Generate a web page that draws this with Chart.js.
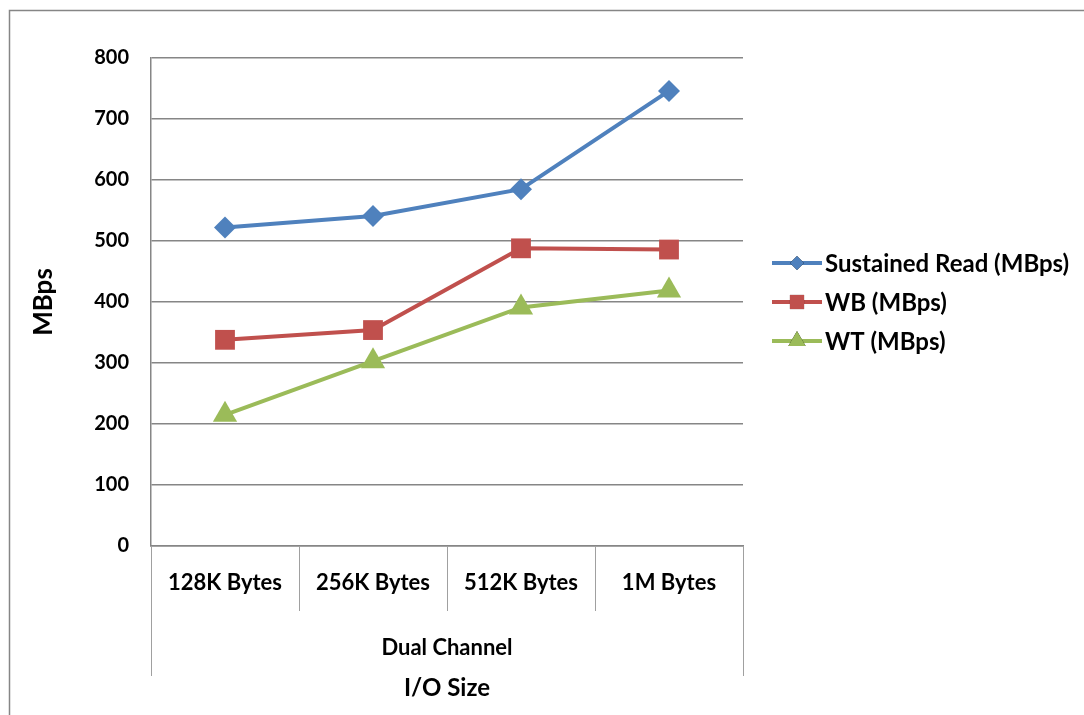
<!DOCTYPE html>
<html>
<head>
<meta charset="utf-8">
<script src="https://cdn.jsdelivr.net/npm/chart.js@4/dist/chart.umd.min.js"></script>
<style>
html,body{margin:0;padding:0;background:#fff;}
</style>
</head>
<body>
<canvas id="chart" width="1084" height="715"></canvas>
<script>
/* data */
var categories = ['128K Bytes', '256K Bytes', '512K Bytes', '1M Bytes'];
var groupLabel = 'Dual Channel';
var readMBps = [522, 541, 585, 746];
var wbMBps = [338, 354, 488, 486];
var wtMBps = [215, 303, 391, 419];
var seriesNames = ['Sustained Read (MBps)', 'WB (MBps)', 'WT (MBps)'];
var yMax = 800, yStep = 100;

var FONT = 'Lato, "Liberation Sans", sans-serif';
var GRID = '#868686';

/* 框線, 多層分類軸, 圖例 */
var decor = {
    id: 'decor',
    afterDraw: function (chart) {
        var ctx = chart.ctx, a = chart.chartArea, xs = chart.scales.x;
        ctx.save();
        ctx.strokeStyle = GRID;
        ctx.lineWidth = 1.5;
        ctx.strokeRect(9.5, 10.5, 1200, 900);

        // category separators
        ctx.lineWidth = 1;
        ctx.strokeStyle = '#a0a0a0';
        for (var i = 0; i <= categories.length; i++) {
            var x, len = 65;
            if (i == 0) { x = a.left; len = 130; }
            else if (i == categories.length) { x = a.right; len = 130; }
            else x = (xs.getPixelForValue(i - 1) + xs.getPixelForValue(i)) / 2;
            x = Math.round(x) + 0.5;
            ctx.beginPath();
            ctx.moveTo(x, a.bottom);
            ctx.lineTo(x, a.bottom + len);
            ctx.stroke();
        }

        ctx.fillStyle = '#000';
        ctx.textAlign = 'center';
        ctx.textBaseline = 'middle';
        ctx.font = 'bold 22px ' + FONT;
        ctx.fillText(groupLabel, (a.left + a.right) / 2, a.bottom + 102);
        ctx.font = 'bold 24px ' + FONT;
        ctx.fillText('I/O Size', (a.left + a.right) / 2, a.bottom + 142);

        ctx.save();
        ctx.translate(44, (a.top + a.bottom) / 2);
        ctx.rotate(-Math.PI / 2);
        ctx.font = 'bold 26px ' + FONT;
        ctx.fillText('MBps', 0, 0);
        ctx.restore();

        // legend
        ctx.textAlign = 'left';
        ctx.font = 'bold 24px ' + FONT;
        chart.data.datasets.forEach(function (ds, k) {
            var y = 263 + k * 39;
            ctx.strokeStyle = ds.borderColor;
            ctx.lineWidth = 4;
            ctx.beginPath();
            ctx.moveTo(772, y);
            ctx.lineTo(822, y);
            ctx.stroke();
            Chart.helpers.drawPoint(ctx, {
                pointStyle: ds.pointStyle,
                radius: ds.legendRadius,
                borderWidth: 0
            }, 797, y);
            ctx.fillStyle = ds.borderColor;
            ctx.fill();
            ctx.fillStyle = '#000';
            ctx.fillText(ds.label, 825, y + 1);
        });
        ctx.restore();
    }
};

var ctx = document.getElementById('chart').getContext('2d');
var chart = new Chart(ctx, {
    type: 'line',
    data: {
        labels: categories,
        datasets: [
            {
                label: seriesNames[0], data: readMBps,
                borderColor: '#4F81BD', backgroundColor: '#4F81BD',
                pointStyle: 'rectRot', pointRadius: 11, legendRadius: 7
            },
            {
                label: seriesNames[1], data: wbMBps,
                borderColor: '#C0504D', backgroundColor: '#C0504D',
                pointStyle: 'rect', pointRadius: 14, legendRadius: 10
            },
            {
                label: seriesNames[2], data: wtMBps,
                borderColor: '#9BBB59', backgroundColor: '#9BBB59',
                pointStyle: 'triangle', pointRadius: 14, legendRadius: 10
            }
        ]
    },
    options: {
        responsive: false,
        animation: false,
        elements: {
            line: { borderWidth: 4, tension: 0 },
            point: { borderWidth: 0, hoverRadius: 12 }
        },
        layout: { padding: { left: 0, top: 58, right: 341, bottom: 0 } },
        plugins: {
            legend: { display: false },
            tooltip: { enabled: false }
        },
        scales: {
            x: {
                offset: true,
                grid: { display: false, drawTicks: false },
                border: { color: GRID, width: 1.5 },
                ticks: {
                    padding: 24,
                    color: '#000',
                    font: { family: FONT, size: 22, weight: 'bold' },
                    maxRotation: 0
                },
                afterFit: function (s) { s.height = 169; }
            },
            y: {
                min: 0, max: yMax,
                grid: { color: GRID, lineWidth: 1.5, drawTicks: false },
                border: { color: GRID, width: 1.5 },
                ticks: {
                    stepSize: yStep,
                    padding: 22,
                    color: '#000',
                    font: { family: FONT, size: 20, weight: 'bold' }
                },
                afterFit: function (s) { s.width = 151; }
            }
        }
    },
    plugins: [decor]
});
</script>
</body>
</html>
